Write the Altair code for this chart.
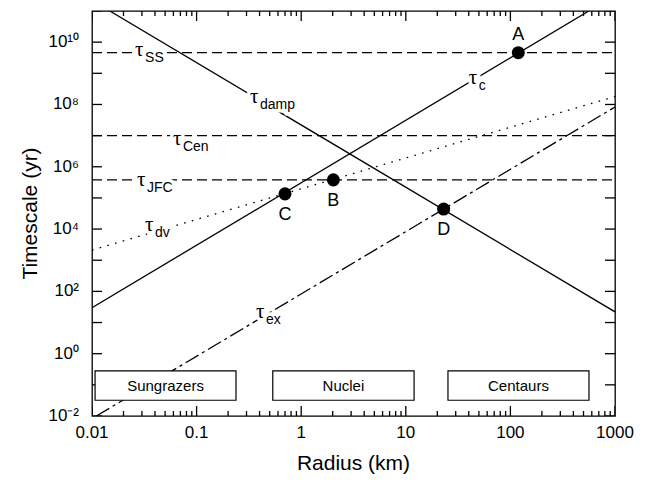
import altair as alt
import pandas as pd

FONT = "Liberation Sans"
TAU_FONT = "Liberation Serif"

# ---- data ----
tau_c_R = [0.01, 562]
tau_c_T = [30, 1e11]
tau_damp_R = [0.0148, 1000]
tau_damp_T = [1e11, 22]
tau_dv_R = [0.01, 1000]
tau_dv_T = [2100, 1.8e8]
tau_ex_R = [0.011, 1000]
tau_ex_T = [0.01, 8.3e7]

h_names = ["SS", "Cen", "JFC"]
h_values = [4.6e9, 1.0e7, 3.8e5]
h_R = [0.01, 1000]

pt_names = ["A", "B", "C", "D"]
pt_R = [119, 2.03, 0.70, 23]
pt_T = [4.6e9, 3.8e5, 1.35e5, 4.4e4]
pt_pos = ["above", "below", "below", "below"]

box_names = ["Sungrazers", "Nuclei", "Centaurs"]
box_R0 = [0.0107, 0.535, 25.3]
box_R1 = [0.238, 12.0, 564]
box_T0 = [0.032, 0.032, 0.032]
box_T1 = [0.28, 0.28, 0.28]

lab_sub = ["SS", "damp", "Cen", "JFC", "dv", "c", "ex"]
lab_R = [0.0258, 0.324, 0.0594, 0.0269, 0.0321, 40.0, 0.37]
lab_T = [3.7e9, 1.13e8, 5.06e6, 2.43e5, 8.7e3, 4.6e8, 14.0]

x_title = "Radius (km)"
y_title = "Timescale (yr)"

x_major = [0.01, 0.1, 1, 10, 100, 1000]
x_major_txt = ["0.01", "0.1", "1", "10", "100", "1000"]
x_minor = [m * d for d in [0.01, 0.1, 1, 10, 100] for m in range(2, 10)]
y_major = [10.0 ** e for e in range(-2, 12)]
y_label_exp = [-2, 0, 2, 4, 6, 8, 10]
y_label_txt = ["10\u207b\u00b2", "10\u2070", "10\u00b2", "10\u2074", "10\u2076", "10\u2078", "10\u00b9\u2070"]

X_DOM = [0.01, 1000]
Y_DOM = [0.01, 1e11]
W, H = 523, 405
MAJ, MIN = 10, 5  # tick lengths in px

# ---- scales ----
xs = alt.Scale(type="log", domain=X_DOM, nice=False)
ys = alt.Scale(type="log", domain=Y_DOM, nice=False)


def X(field):
    return alt.X(field, scale=xs, axis=None)


def Y(field):
    return alt.Y(field, scale=ys, axis=None)


def _frac(dom, px, total):
    return (dom[1] / dom[0]) ** (px / total)


# ---- one table of solid segments: the two solid curves plus the inward tick marks ----
solid_rows = []
for r, t in zip(tau_c_R, tau_c_T):
    solid_rows.append({"seg": "tau_c", "R": r, "T": t})
for r, t in zip(tau_damp_R, tau_damp_T):
    solid_rows.append({"seg": "tau_damp", "R": r, "T": t})


def add_xticks(name, vals, top, length):
    f = _frac(Y_DOM, length, H)
    y0 = Y_DOM[1] if top else Y_DOM[0]
    y1 = y0 / f if top else y0 * f
    for i, v in enumerate(vals):
        solid_rows.append({"seg": f"{name}{i}", "R": v, "T": y0})
        solid_rows.append({"seg": f"{name}{i}", "R": v, "T": y1})


def add_yticks(name, vals, right, length):
    f = _frac(X_DOM, length, W)
    x0 = X_DOM[1] if right else X_DOM[0]
    x1 = x0 / f if right else x0 * f
    for i, v in enumerate(vals):
        solid_rows.append({"seg": f"{name}{i}", "R": x0, "T": v})
        solid_rows.append({"seg": f"{name}{i}", "R": x1, "T": v})


add_xticks("xb", x_major, False, MAJ)
add_xticks("xbm", x_minor, False, MIN)
add_xticks("xt", x_major, True, MAJ)
add_xticks("xtm", x_minor, True, MIN)
add_yticks("yl", y_major, False, MAJ)
add_yticks("yr", y_major, True, MAJ)

solid_df = pd.DataFrame(solid_rows)
l_solid = alt.Chart(solid_df).mark_line(color="black", strokeWidth=1.3, clip=True).encode(
    x=X("R:Q"), y=Y("T:Q"), detail="seg:N")


def line_layer(R, T, dash):
    df = pd.DataFrame({"R": R, "T": T})
    return alt.Chart(df).mark_line(color="black", strokeWidth=1.3, clip=True, strokeDash=dash).encode(
        x=X("R:Q"), y=Y("T:Q"))


l_dv = line_layer(tau_dv_R, tau_dv_T, [1.6, 6.4])
l_ex = line_layer(tau_ex_R, tau_ex_T, [15, 4, 3, 4])

h_rows = []
for n, v in zip(h_names, h_values):
    for r in h_R:
        h_rows.append({"name": n, "R": r, "T": v})
h_df = pd.DataFrame(h_rows)
l_h = alt.Chart(h_df).mark_line(color="black", strokeWidth=1.3, strokeDash=[10, 5], clip=True).encode(
    x=X("R:Q"), y=Y("T:Q"), detail="name:N")

# ---- tick labels and axis titles as text ----
xlab_df = pd.DataFrame({"v": x_major, "t": x_major_txt})
xlabels = alt.Chart(xlab_df).mark_text(font=FONT, fontSize=17, color="black", baseline="top").encode(
    x=X("v:Q"), y=alt.value(H + 9), text="t:N")
ylab_df = pd.DataFrame({"v": [10.0 ** e for e in y_label_exp], "t": y_label_txt})
ylabels = alt.Chart(ylab_df).mark_text(font=FONT, fontSize=17, color="black", align="right",
                                       baseline="middle").encode(
    y=Y("v:Q"), x=alt.value(-13), text="t:N")
xt = alt.Chart(pd.DataFrame({"t": [x_title]})).mark_text(font=FONT, fontSize=21, color="black",
                                                        baseline="middle").encode(
    x=alt.value(W / 2), y=alt.value(H + 48), text="t:N")
yt = alt.Chart(pd.DataFrame({"t": [y_title]})).mark_text(font=FONT, fontSize=21, color="black",
                                                        baseline="middle", angle=270).encode(
    x=alt.value(-61), y=alt.value(H / 2), text="t:N")

box_df = pd.DataFrame({"name": box_names, "R0": box_R0, "R1": box_R1, "T0": box_T0, "T1": box_T1})
box_df["Rc"] = (box_df["R0"] * box_df["R1"]) ** 0.5
box_df["Tc"] = (box_df["T0"] * box_df["T1"]) ** 0.5
boxes = alt.Chart(box_df).mark_rect(fill="white", stroke="black", strokeWidth=1.2).encode(
    x=X("R0:Q"), x2="R1:Q", y=Y("T0:Q"), y2="T1:Q")
box_text = alt.Chart(box_df).mark_text(font=FONT, fontSize=15, color="black", baseline="middle").encode(
    x=X("Rc:Q"), y=Y("Tc:Q"), text="name:N")

lab_df = pd.DataFrame({"sub": lab_sub, "R": lab_R, "T": lab_T})
lab_df["tau"] = "\u03c4"
tau_kw = dict(font=TAU_FONT, fontSize=21, align="left", baseline="alphabetic")
sub_kw = dict(font=FONT, fontSize=14, align="left", baseline="alphabetic", dx=10, dy=6)
halo_tau = alt.Chart(lab_df).mark_text(stroke="white", strokeWidth=7, fill="white", **tau_kw).encode(
    x=X("R:Q"), y=Y("T:Q"), text="tau:N")
halo_sub = alt.Chart(lab_df).mark_text(stroke="white", strokeWidth=7, fill="white", **sub_kw).encode(
    x=X("R:Q"), y=Y("T:Q"), text="sub:N")
txt_tau = alt.Chart(lab_df).mark_text(color="black", **tau_kw).encode(x=X("R:Q"), y=Y("T:Q"), text="tau:N")
txt_sub = alt.Chart(lab_df).mark_text(color="black", **sub_kw).encode(x=X("R:Q"), y=Y("T:Q"), text="sub:N")

pt_df = pd.DataFrame({"name": pt_names, "R": pt_R, "T": pt_T, "pos": pt_pos})
pts = alt.Chart(pt_df).mark_circle(size=170, color="black", opacity=1).encode(x=X("R:Q"), y=Y("T:Q"))
pt_above = alt.Chart(pt_df).transform_filter("datum.pos=='above'").mark_text(
    font=FONT, fontSize=18, dy=-13, baseline="alphabetic", color="black").encode(
    x=X("R:Q"), y=Y("T:Q"), text="name:N")
pt_below = alt.Chart(pt_df).transform_filter("datum.pos=='below'").mark_text(
    font=FONT, fontSize=18, dy=26, baseline="alphabetic", color="black").encode(
    x=X("R:Q"), y=Y("T:Q"), text="name:N")

chart = alt.layer(
    l_solid, l_dv, l_ex, l_h, xlabels, ylabels, xt, yt, boxes, box_text,
    halo_tau, halo_sub, txt_tau, txt_sub, pts, pt_above, pt_below,
).properties(
    width=W, height=H,
    autosize=alt.AutoSizeParams(type="none"),
    padding={"left": 84, "top": 3, "right": 22, "bottom": 62},
).configure_view(stroke="black", strokeWidth=1.3)

chart.save("out.html", embed_options={"renderer": "svg", "actions": False})
